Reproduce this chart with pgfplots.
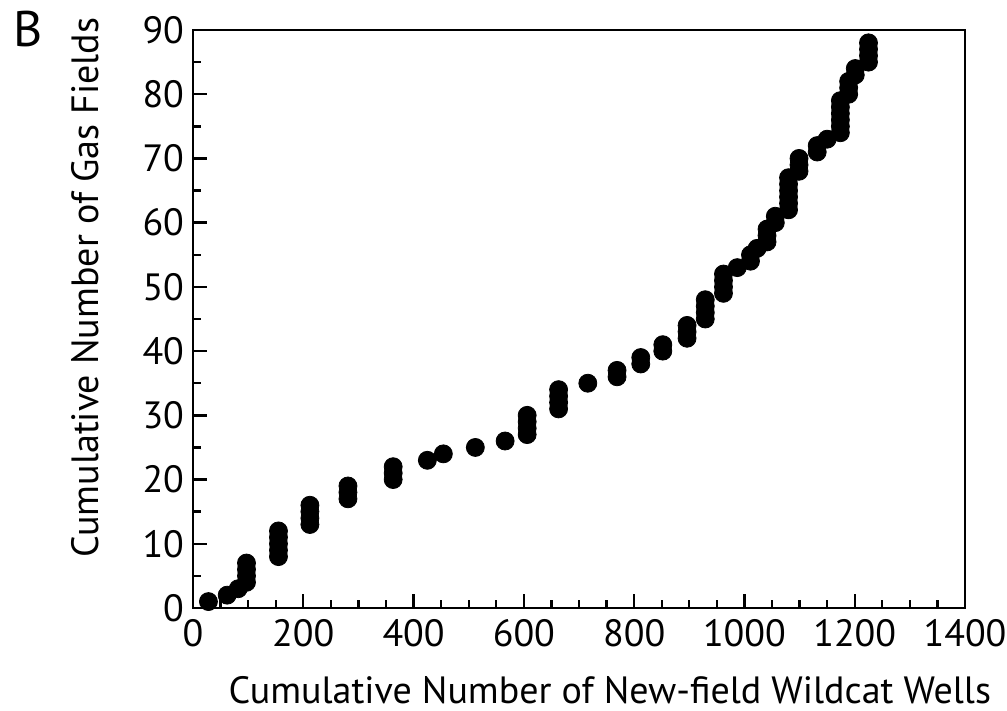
\documentclass[border=0pt]{standalone}
\usepackage{fontspec}
\setmainfont{PT Sans}
\usepackage{pgfplots}
\pgfplotsset{compat=1.18}

\begin{document}
\begin{tikzpicture}
\path[use as bounding box] (0,0) rectangle (503.5pt,355.5pt);
\begin{axis}[
    at={(96.5pt,51.5pt)}, anchor=south west,
    scale only axis,
    width=386pt, height=289pt,
    xmin=0, xmax=1400, ymin=0, ymax=90,
    xtick={0,200,...,1400}, minor x tick num=3,
    ytick={0,10,...,90}, minor y tick num=1,
    tick align=inside,
    xtick pos=bottom, ytick pos=left,
    major tick length=7pt, minor tick length=4pt,
    axis line style={line width=1.2pt},
    every tick/.style={black, line width=1.2pt},
    /pgf/number format/assume math mode=true,
    /pgf/number format/1000 sep={},
    tick label style={font=\fontsize{19}{22}\selectfont},
    xticklabel style={yshift=-2pt},
    yticklabel style={xshift=-1pt},
    xlabel={Cumulative Number of New-field Wildcat Wells},
    ylabel={Cumulative Number of Gas Fields},
    every axis x label/.style={at={(axis description cs:0.54,0)}, yshift=-41pt, anchor=center, font=\fontsize{19}{22}\selectfont},
    every axis y label/.style={at={(axis description cs:0,0.554)}, xshift=-54pt, anchor=center, rotate=90, font=\fontsize{19}{22}\selectfont},
    clip=false,
]
\addplot[only marks, mark=*, mark size=4.5pt, black] coordinates {
(28,1)(62,2)(82,3)(97,4)(97,5)(97,6)(97,7)
(155,8)(155,9)(155,10)(155,11)(155,12)
(212,13)(212,14)(212,15)(212,16)
(281,17)(281,18)(281,19)
(363,20)(363,21)(363,22)
(425,23)(454,24)(512,25)(566,26)
(606,27)(606,28)(606,29)(606,30)
(663,31)(663,32)(663,33)(663,34)
(716,35)(769,36)(769,37)(812,38)(812,39)(852,40)(852,41)
(896,42)(896,43)(896,44)
(929,45)(929,46)(929,47)(929,48)
(962,49)(962,50)(962,51)(962,52)
(987,53)(1011,54)(1011,55)(1023,56)
(1041,57)(1041,58)(1041,59)(1056,60)(1056,61)
(1080,62)(1080,63)(1080,64)(1080,65)(1080,66)(1080,67)
(1099,68)(1099,69)(1099,70)
(1132,71)(1132,72)(1150,73)
(1174,74)(1174,75)(1174,76)(1174,77)(1174,78)(1174,79)
(1189,80)(1189,81)(1189,82)(1201,83)(1201,84)
(1225,85)(1225,86)(1225,87)(1225,88)
};
\end{axis}
\node[font=\fontsize{25}{28}\selectfont] at (14pt,341pt) {B};
\end{tikzpicture}
\end{document}
